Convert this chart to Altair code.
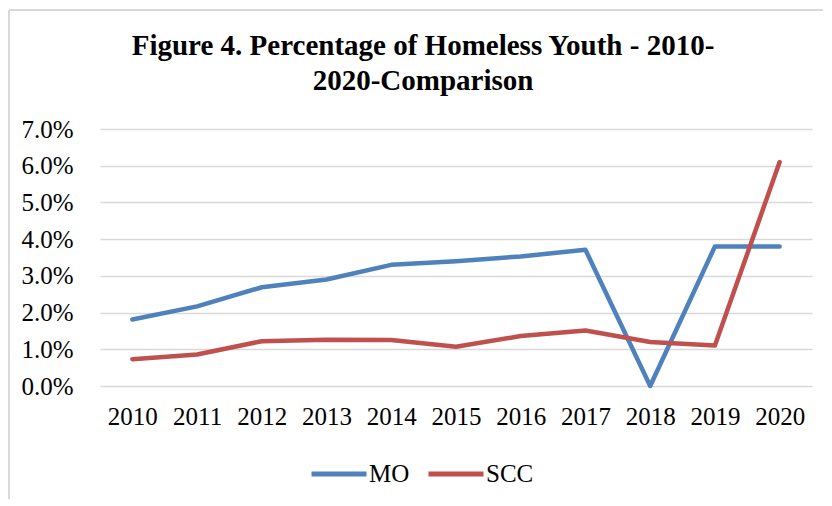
import altair as alt
import pandas as pd

years = ["2010", "2011", "2012", "2013", "2014", "2015", "2016", "2017", "2018", "2019", "2020"]
mo = [1.81, 2.17, 2.69, 2.90, 3.30, 3.40, 3.53, 3.71, 0.00, 3.80, 3.80]
scc = [0.73, 0.86, 1.22, 1.26, 1.25, 1.07, 1.36, 1.51, 1.20, 1.10, 6.10]
series = ["MO", "SCC"]
colors = ["#4F81BD", "#C0504D"]
y_ticks = [0.0, 0.01, 0.02, 0.03, 0.04, 0.05, 0.06, 0.07]

rows = []
for name, vals in zip(series, [mo, scc]):
    for yr, v in zip(years, vals):
        rows.append({"Year": yr, "Series": name, "Value": v / 100.0})
df = pd.DataFrame(rows)

FONT = "Liberation Serif"

lines = alt.Chart(df).mark_line(strokeWidth=4.5, strokeCap="round", strokeJoin="round").encode(
    x=alt.X("Year:O", sort=years, scale=alt.Scale(type="point", padding=0.5),
            axis=alt.Axis(title=None, labelAngle=0, domain=False, ticks=False, tickSize=0,
                          labelPadding=18, labelFontSize=25, labelFont=FONT, labelColor="black",
                          grid=False)),
    y=alt.Y("Value:Q", scale=alt.Scale(domain=[0, 0.07], nice=False),
            axis=alt.Axis(title=None, values=y_ticks, format=".1%", domain=False, ticks=False,
                          tickSize=0, labelPadding=27, labelFontSize=25, labelFont=FONT,
                          labelColor="black", grid=True, gridColor="#D9D9D9", gridWidth=1.5)),
    color=alt.Color("Series:N", sort=series, scale=alt.Scale(domain=series, range=colors),
                    legend=alt.Legend(title=None, orient="none", direction="horizontal",
                                      legendX=209, legendY=315, padding=0,
                                      symbolType="stroke", symbolSize=3025, symbolStrokeWidth=5,
                                      labelFontSize=25, labelFont=FONT, labelColor="black",
                                      labelOffset=0, columnPadding=8, symbolOffset=0)),
)

frame_top = alt.Chart(pd.DataFrame({"k": [0]})).mark_rule(color="#D9D9D9", strokeWidth=2).encode(
    x=alt.value(-91), x2=alt.value(723), y=alt.value(-119)
)
frame_left = alt.Chart(pd.DataFrame({"k": [0]})).mark_rule(color="#D9D9D9", strokeWidth=2).encode(
    x=alt.value(-91), y=alt.value(-119), y2=alt.value(370)
)

chart = alt.layer(frame_top, frame_left, lines).properties(
    width=712,
    height=257,
    padding={"left": 0, "top": 1, "right": 0, "bottom": 0},
    title=alt.TitleParams(
        text=["Figure 4. Percentage of Homeless Youth - 2010-", "2020-Comparison"],
        font=FONT, fontSize=29, fontWeight="bold", color="black", lineHeight=35,
        anchor="middle", frame="group", dx=-33, offset=-87,
    ),
).configure_view(stroke=None)

chart.save("out.html", embed_options={"renderer": "svg", "actions": False})
